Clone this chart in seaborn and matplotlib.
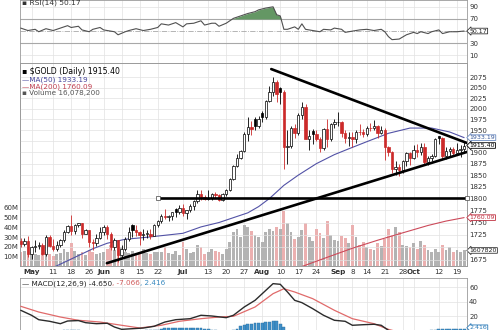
import numpy as np
import pandas as pd
import matplotlib
matplotlib.use("Agg")
import matplotlib.pyplot as plt
import matplotlib.ticker as mticker
import seaborn as sns

# ---------------- data ----------------
holidays = ["2020-05-25", "2020-07-03", "2020-09-07"]
dates = pd.bdate_range("2020-04-28", "2020-10-21")
dates = dates[~dates.isin(pd.to_datetime(holidays))]

opens = [1713,1707,1713,1686,1700,1702,1705,1686,1721,1702,1697,1704,1714,1731,1743,1732,1745,1748,1726,1735,
         1710,1709,1719,1730,1740,1727,1700,1714,1685,1697,1716,1745,1735,1730,1725,1727,1727,1723,1744,1754,
         1764,1761,1763,1778,1772,1781,1769,1775,1784,1795,1809,1803,1798,1802,1809,1807,1796,1810,1817,1841,
         1870,1888,1902,1942,1957,1975,1960,1990,1980,2019,2039,2063,2050,2040,1912,1915,1955,1944,1985,2003,
         1930,1948,1941,1929,1909,1952,1930,1964,1968,1970,1944,1933,1934,1930,1946,1945,1941,1956,1955,1960,
         1944,1950,1912,1900,1863,1868,1862,1881,1898,1887,1906,1900,1913,1878,1887,1893,1936,1932,1891,1902,
         1908,1899,1905,1907]
highs = [1718,1718,1722,1702,1715,1711,1708,1724,1724,1716,1712,1717,1735,1745,1765,1746,1749,1750,1737,1735,
         1717,1726,1740,1745,1745,1731,1718,1714,1705,1720,1740,1747,1744,1732,1736,1734,1737,1746,1755,1768,
         1779,1766,1772,1780,1786,1789,1776,1788,1796,1818,1818,1808,1817,1811,1813,1809,1812,1820,1843,1872,
         1897,1905,1945,1981,1971,1980,1984,1994,2020,2055,2075,2069,2052,2045,1950,1960,1965,1990,2015,2010,
         1950,1952,1950,1934,1955,1975,1967,1975,1993,1972,1950,1945,1945,1950,1965,1952,1960,1966,1973,1962,
         1960,1955,1914,1904,1880,1875,1883,1900,1900,1917,1918,1920,1920,1892,1897,1933,1937,1935,1911,1912,
         1912,1922,1917,1925]
lows = [1700,1703,1680,1677,1691,1697,1685,1682,1700,1692,1692,1700,1710,1728,1725,1727,1740,1718,1726,1700,
        1695,1702,1717,1725,1717,1694,1694,1671,1678,1693,1712,1720,1722,1705,1714,1719,1717,1722,1740,1748,
        1758,1754,1755,1761,1768,1763,1758,1771,1776,1791,1797,1796,1796,1797,1800,1795,1795,1806,1815,1840,
        1867,1886,1900,1925,1940,1950,1955,1970,1975,2016,2030,2015,2010,1863,1874,1910,1932,1940,1975,1930,
        1905,1918,1925,1901,1906,1911,1925,1955,1960,1935,1921,1915,1913,1920,1940,1935,1937,1948,1950,1932,
        1942,1883,1893,1855,1850,1848,1855,1870,1872,1885,1889,1895,1875,1873,1882,1890,1918,1885,1886,1891,
        1895,1897,1890,1900]
closes = [1707,1713,1686,1700,1702,1705,1686,1721,1702,1697,1704,1714,1731,1743,1732,1745,1748,1726,1735,1710,
          1709,1719,1730,1740,1727,1700,1714,1685,1697,1716,1730,1735,1730,1725,1727,1727,1723,1744,1754,1764,
          1761,1763,1771,1772,1781,1769,1775,1784,1795,1809,1803,1798,1802,1809,1807,1796,1810,1817,1841,1870,
          1888,1902,1942,1957,1953,1960,1976,1980,2019,2039,2063,2035,2040,1912,1915,1955,1944,1985,2003,1930,
          1937,1941,1929,1909,1952,1930,1964,1968,1970,1944,1933,1934,1930,1946,1945,1941,1956,1955,1960,1944,
          1950,1912,1900,1863,1868,1862,1881,1898,1887,1906,1900,1913,1878,1887,1893,1930,1932,1891,1902,1908,
          1899,1905,1907,1915.40]
volume_m = [14,16,20,15,12,11,13,15,12,
            10,12,13,18,15,24,16,12,15,11,17,14,12,13,
            14,18,22,17,25,20,15,13,16,12,14,18,13,12,14,
            15,14,20,13,12,16,11,25,18,13,15,22,20,12,14,18,16,15,12,
            18,25,35,38,30,42,40,36,32,30,25,35,
            38,36,40,38,57,45,35,28,30,37,45,30,26,38,34,29,47,32,27,
            26,31,29,24,42,30,22,25,20,18,17,24,21,28,38,32,40,35,22,21,20,
            24,18,26,22,17,15,18,15,22,17,20,15,17,15,16.08]

ma50_day = [0,5,9,15,20,24,29,35,40,45,50,55,59,63,66,69,73,77,82,87,91,96,102,108,114,119,123]
ma50_val = [1625,1645,1660,1680,1697,1708,1716,1720,1724,1728,1741,1750,1760,1770,1783,1800,1828,1850,
            1875,1895,1908,1924,1943,1955,1955,1946,1933.19]
ma200_day = [60,70,78,85,92,99,106,113,118,123]
ma200_val = [1622,1645,1662,1680,1698,1714,1729,1744,1753,1760.09]

rsi_day = [0,2,4,5,7,9,10,13,14,16,17,19,20,22,23,25,26,27,29,30,32,34,36,38,39,41,42,43,45,46,
           48,50,51,53,54,55,57,59,61,63,65,66,68,70,71,72,73,74,76,77,78,79,81,83,84,86,87,89,90,92,
           94,96,98,100,101,102,103,105,107,109,110,111,113,114,116,117,119,121,123]
rsi_val = [55,51,53,49,54,51,53,59,56,58,52,49,53,56,52,50,49,44,49,51,54,51,53,56,62,60,62,64,57,62,
           63,67,60,63,63,58,63,71,75,79,82,85,88,90,77,75,53,53,57,53,62,53,51,49,53,52,55,53,48,50,
           52,53,51,53,49,41,36,37,44,48,46,49,46,49,52,46,49,49,50.17]

macd_day = [0,3,5,8,11,13,16,18,21,24,26,28,31,34,37,40,43,47,50,53,57,59,62,65,67,70,72,74,76,78,
            81,84,87,90,92,95,98,100,102,105,110,115,120,123]
macd_val = [28.3,21.4,15.3,13.1,9.8,13.5,14.1,11.2,9.8,10.4,5.2,2,2.9,3.8,6.2,12.1,15.3,16.7,21.4,20.4,
            18.1,21.4,32.8,42,51.2,65,64.1,53.5,42,38.8,30.5,21.4,14.5,13.1,7.6,8.4,9,7.6,0.7,-10,
            -12,-8,-6,-4.65]
signal_day = [0,5,11,16,22,28,33,39,44,50,55,59,65,70,73,76,81,87,92,98,102,105,110,115,120,123]
signal_val = [33.8,25.9,19,14.5,12.1,7.6,3.9,7.6,13.1,16.7,19,20,32.8,51.2,58,53.5,44.3,28.3,16.7,9.8,
              2,-2,-6,-7.5,-7.5,-7.066]
hist_val = [-5,-5,-5,-4,-4,-4,-3,-3,-3,-2,
            -2,-1,0.5,1,1.5,1,0.5,-0.5,-1,-1.5,
            -2,-2,-2,-2.5,-3,-3,-3.5,-3.5,-3,-2.5,
            -2,-1.5,-1,-0.5,0.2,0.5,0.8,1,
            1.5,2,3.5,4,4.5,4.5,4,4,4,3.5,3.5,4,3.5,3,2,1,
            0.5,-0.5,-1,-0.5,0.3,
            1,3,6,8,9,10,10.5,10.5,11,11.5,12,13,13.5,10,5,
            -2,-6,-8,-9,-10,-11,-12,-12,-12,-11,
            -11,-10,-10,-9,-8,-8,-7,-7,-6,-6,
            -5,-4,-3,-2,-2,-2,-2,-3,-4,-5,
            -6,-6,-5,-5,-4,-3,-2,-2,-1,-0.5,
            0.5,1.5,2.5,2.5,2.5,2.3,2.3,2.3,2.4,2.416]

# trend lines (day index, price)
upper_day, upper_px = [69.5, 123.8], [2095, 1921]
lower_day, lower_px = [23.9, 123.8], [1668.5, 1901]
support_day, support_px = [38.2, 123.8], [1800, 1800]

tick_dates = ["2020-05-01","2020-05-11","2020-05-18","2020-05-26","2020-06-01","2020-06-08","2020-06-15",
              "2020-06-22","2020-07-01","2020-07-13","2020-07-20","2020-07-27","2020-08-03","2020-08-10",
              "2020-08-17","2020-08-24","2020-09-01","2020-09-08","2020-09-14","2020-09-21","2020-09-28",
              "2020-10-01","2020-10-12","2020-10-19"]
tick_labels = ["May","11","18","26","Jun","8","15","22","Jul","13","20","27","Aug","10","17","24",
               "Sep","8","14","21","28","Oct","12","19"]
price_ticks = [1675,1700,1725,1750,1775,1800,1825,1850,1875,1900,1925,1950,1975,2000,2025,2050,2075]
price_labels = ["1675","","1725","1750","1775","1800","1825","1850","1875","1900","","1950","1975",
                "2000","2025","2050","2075"]
vol_ticks = [10,20,30,40,50,60]
vol_labels = ["10M","20M","30M","40M","50M","60M"]
rsi_ticks = [10,30,70,90]
macd_ticks = [20,40,60]

# ---------------- style ----------------
sns.set_style("white")
plt.rcParams["font.family"] = ["DejaVu Sans"]
plt.rcParams["axes.linewidth"] = 0.6

RED = "#cc2a2a"
GRID = "#e2e2e2"
SPINE = "#9a9a9a"
TXT = "#333333"

fig = plt.figure(figsize=(5, 3.3), dpi=100)
W, H = 500.0, 330.0

def rect(x0, y0, x1, y1):
    return [x0 / W, 1 - y1 / H, (x1 - x0) / W, (y1 - y0) / H]

L, R = 20, 467
ax_rsi = fig.add_axes(rect(L, 0, R, 63))
vax = fig.add_axes(rect(L, 63, R, 266))
ax = fig.add_axes(rect(L, 63, R, 266))
ax_macd = fig.add_axes(rect(L, 278, R, 330))
ax.patch.set_visible(False)

o = np.array(opens, float); h = np.array(highs, float)
lo = np.array(lows, float); c = np.array(closes, float)
x = np.arange(len(c))
prev = np.r_[o[0], c[:-1]]
down = c < prev
tick_idx = [dates.get_loc(pd.Timestamp(d)) for d in tick_dates]
XL = (-0.2, 123.8)

for a in (ax_rsi, vax, ax, ax_macd):
    a.set_xlim(*XL)
    for s in a.spines.values():
        s.set_color(SPINE)
        s.set_linewidth(0.6)
    a.tick_params(length=0, labelsize=5, colors=TXT, pad=1.5)

# ---------------- RSI ----------------
ax_rsi.set_ylim(-2.4, 101.2)
ax_rsi.set_xticks(tick_idx)
ax_rsi.set_xticklabels([])
ax_rsi.yaxis.tick_right()
ax_rsi.set_yticks(rsi_ticks)
ax_rsi.grid(True, color=GRID, lw=0.5)
ax_rsi.axhline(70, color="#a8a8a8", lw=0.8, zorder=1)
ax_rsi.axhline(30, color="#a8a8a8", lw=0.8, zorder=1)
ax_rsi.axhline(50, color="#a8a8a8", lw=0.6, ls="-.", zorder=1)
rv = np.array(rsi_val, float)
ax_rsi.fill_between(rsi_day, 70, rv, where=rv > 70, interpolate=True, color="#649764", zorder=2, lw=0)
sns.lineplot(x=rsi_day, y=rsi_val, ax=ax_rsi, color="#505050", lw=0.8, zorder=3)
ax_rsi.set_xlim(*XL); ax_rsi.set_ylim(-2.4, 101.2)
ax_rsi.set_xlabel(""); ax_rsi.set_ylabel("")

# ---------------- volume ----------------
vax.bar(x, volume_m, width=0.78, color=np.where(down, "#ebb0b0", "#b3b3b3"), lw=0, zorder=2)
vax.set_ylim(0, 210)
vax.set_yticks(vol_ticks)
vax.set_yticklabels(vol_labels)
vax.set_xticks(tick_idx)
vax.set_xticklabels([])
vax.grid(True, axis="x", color=GRID, lw=0.5)
vax.tick_params(axis="y", pad=1)

# ---------------- price ----------------
ax.set_yscale("log")
ax.yaxis.tick_right()
ax.yaxis.set_major_locator(mticker.FixedLocator(price_ticks))
ax.yaxis.set_major_formatter(mticker.FixedFormatter(price_labels))
ax.yaxis.set_minor_locator(mticker.NullLocator())
ax.grid(True, axis="y", color=GRID, lw=0.5, zorder=0)
ax.set_xticks(tick_idx)
ax.set_xticklabels(tick_labels, fontsize=5.2)
for t, lab in zip(ax.get_xticklabels(), tick_labels):
    if not lab.isdigit():
        t.set_fontweight("bold")
ax.tick_params(axis="x", pad=2)

sns.lineplot(x=ma50_day, y=ma50_val, ax=ax, color="#5252a6", lw=0.8, zorder=3)
sns.lineplot(x=ma200_day, y=ma200_val, ax=ax, color="#cc4a5a", lw=0.8, zorder=3)

colr = np.where(down, RED, "black")
ax.vlines(x, lo, h, colors=colr, lw=0.6, zorder=4)
body_lo = np.minimum(o, c)
body_h = np.maximum(np.abs(c - o), 1.0)
face = np.where(c < o, colr, "white")
ax.bar(x, body_h, bottom=body_lo, width=0.66, color=face, edgecolor=colr, linewidth=0.5, zorder=5)

ax.plot(upper_day, upper_px, color="black", lw=1.9, solid_capstyle="round", zorder=6)
ax.plot(lower_day, lower_px, color="black", lw=1.9, solid_capstyle="round", zorder=6)
ax.plot(support_day, support_px, color="black", lw=1.9, zorder=6, marker="s", ms=3.2,
        mfc="white", mec="#444444", mew=0.5, clip_on=False)
ax.set_xlim(*XL)
ax.set_ylim(1663, 2110)
ax.set_xlabel(""); ax.set_ylabel("")

# ---------------- MACD ----------------
hv = np.array(hist_val, float)
ax_macd.bar(x, hv, width=0.8, color="#3f8fc8", edgecolor="#2a6fa0", lw=0.3, zorder=2)
sns.lineplot(x=signal_day, y=signal_val, ax=ax_macd, color="#e06a6a", lw=0.9, zorder=3)
sns.lineplot(x=macd_day, y=macd_val, ax=ax_macd, color="#2b2b2b", lw=1.0, zorder=4)
ax_macd.set_xlim(*XL)
ax_macd.set_ylim(1.1, 72.8)
ax_macd.yaxis.tick_right()
ax_macd.set_yticks(macd_ticks)
ax_macd.set_xticks(tick_idx)
ax_macd.set_xticklabels([])
ax_macd.grid(True, color=GRID, lw=0.5)
ax_macd.set_xlabel(""); ax_macd.set_ylabel("")

# ---------------- value tags ----------------
def tag(a, yv, text, tc, ec, weight="normal"):
    a.text(1.006, yv, text, transform=a.get_yaxis_transform(), ha="left", va="center",
           fontsize=4.5, color=tc, fontweight=weight, zorder=20, clip_on=False,
           bbox=dict(boxstyle="larrow,pad=0.05", fc="white", ec=ec, lw=0.6))

tag(ax_rsi, 50.17, "50.17", "#222222", "#333333")
tag(ax, 1933.19, "1933.19", "#3a5a9a", "#6a8ac0")
tag(ax, 1915.40, "1915.40", "black", "black")
tag(ax, 1760.09, "1760.09", "#c03040", "#c03040")
tag(vax, 16.08, "1607820", "#222222", "#333333")
tag(ax_macd, 4.2, "2.416", "#2a7ab8", "#2a7ab8")

# ---------------- legends ----------------
def ftext(px, py, s, color, size=5.3, weight="normal"):
    return fig.text(px / W, 1 - py / H, s, color=color, fontsize=size, ha="left", va="center",
                    fontweight=weight)

ftext(22, 3.2, "\u25aa RSI(14) 50.17", "#333333", 5.4)
ftext(22, 72, "\u25aa $GOLD (Daily) 1915.40", "black", 5.6)
ftext(22, 79.5, "\u2014MA(50) 1933.19", "#45459a", 5.2)
ftext(22, 86.5, "\u2014MA(200) 1760.09", "#c04050", 5.2)
ftext(22, 93.5, "\u25aa Volume 16,078,200", "#555555", 5.2)

fig.canvas.draw()
rend = fig.canvas.get_renderer()
px = 22
for s, col in [("\u2014 MACD(12,26,9) -4.650", "#222222"), (", -7.066", "#d05a5a"), (", 2.416", "#3a8ac0")]:
    t = ftext(px, 283.5, s, col, 5.2)
    bb = t.get_window_extent(renderer=rend)
    px += bb.width

fig.savefig("out.png", dpi=100)
